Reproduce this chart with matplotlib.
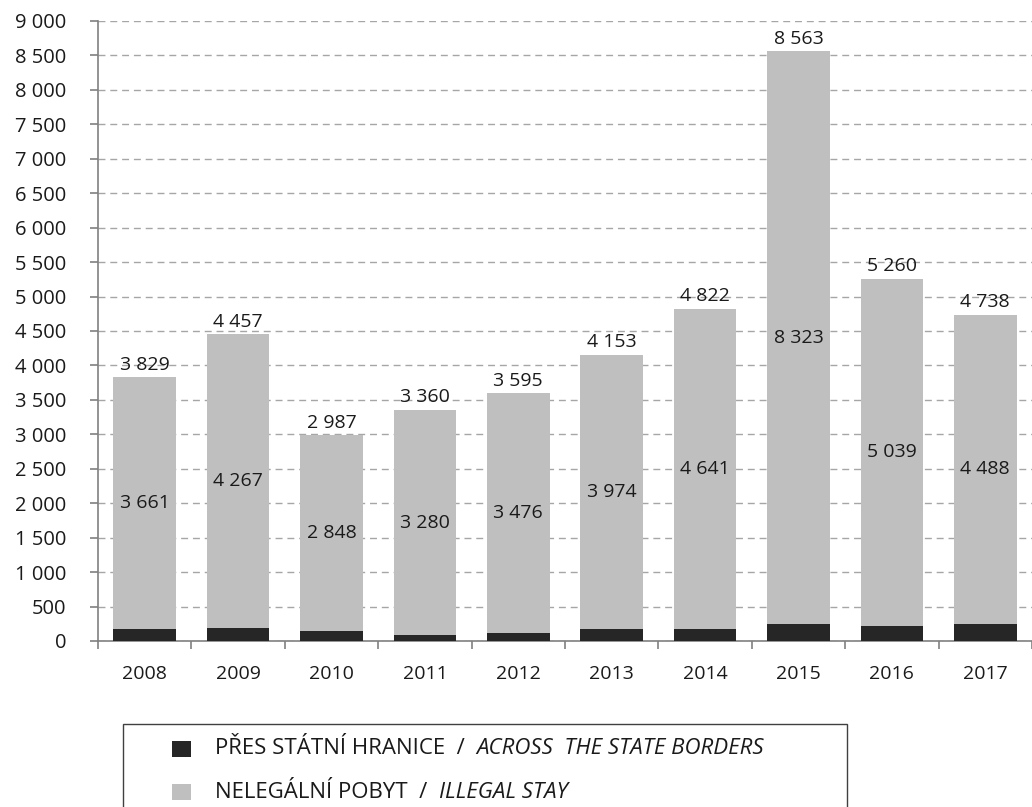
import matplotlib
matplotlib.use("Agg")
import matplotlib.pyplot as plt
from matplotlib.patches import Rectangle

years = ["2008", "2009", "2010", "2011", "2012", "2013", "2014", "2015", "2016", "2017"]
totals = [3829, 4457, 2987, 3360, 3595, 4153, 4822, 8563, 5260, 4738]
illegal_stay = [3661, 4267, 2848, 3280, 3476, 3974, 4641, 8323, 5039, 4488]
across_borders = [t - s for t, s in zip(totals, illegal_stay)]
legend_cz = ["PŘES STÁTNÍ HRANICE", "NELEGÁLNÍ POBYT"]
legend_en = ["ACROSS  THE STATE BORDERS", "ILLEGAL STAY"]

def fmt(v):
    return f"{v:,}".replace(",", " ")

plt.rcParams['font.family'] = ['Open Sans', 'DejaVu Sans']

W, H = 1032, 807
fig = plt.figure(figsize=(W / 100, H / 100), dpi=100)
ax = fig.add_axes([98/W, 1 - 641/H, (W-98)/W, (641-21)/H])

x = list(range(len(years)))
w = 0.67
dark = "#262626"
grey = "#bfbfbf"
tc = "#1a1a1a"
fs = 14
ax.bar(x, across_borders, width=w, color=dark, zorder=3)
ax.bar(x, illegal_stay, width=w, bottom=across_borders, color=grey, zorder=3)

for i in x:
    ax.text(i, totals[i] + 50, fmt(totals[i]), ha="center", va="bottom", fontsize=fs, color=tc)
    ax.text(i, across_borders[i] + illegal_stay[i] / 2, fmt(illegal_stay[i]), ha="center", va="center",
            fontsize=fs, color=tc, zorder=4)

ax.set_ylim(0, 9000)
ax.set_xlim(-0.5, 9.37)
ax.set_yticks(range(0, 9001, 500))
ax.set_yticklabels([fmt(v) for v in range(0, 9001, 500)], fontsize=14.5, color=tc)
ax.yaxis.grid(True, linestyle=(0, (5, 3.5)), color="#a6a6a6", linewidth=1.0, zorder=0)
ax.set_xticks(x)
ax.set_xticklabels(years, fontsize=fs, color=tc)
ax.set_xticks([i - 0.5 for i in range(len(years) + 1)], minor=True)
ax.tick_params(axis="x", which="major", length=0, pad=17)
ax.tick_params(axis="x", which="minor", length=6, color="#808080", width=1.2)
ax.tick_params(axis="y", length=6, color="#808080", width=1.2, pad=17)
for s in ["top", "right"]:
    ax.spines[s].set_visible(False)
for s in ["left", "bottom"]:
    ax.spines[s].set_color("#808080")
    ax.spines[s].set_linewidth(1.2)

# legend box (manual, figure pixel coordinates)
def fx(px):
    return px / W

def fy(py):
    return 1 - py / H

fig.patches.append(Rectangle((fx(123), fy(812)), fx(847) - fx(123), fy(724) - fy(812),
                             transform=fig.transFigure, facecolor="white", edgecolor="#404040",
                             linewidth=1.0, zorder=5))
rows_y = [749, 792]
colors = [dark, grey]
lfs = 16
for k in range(2):
    yc = rows_y[k]
    fig.patches.append(Rectangle((fx(172), fy(yc + 8)), fx(191) - fx(172), fy(yc - 8) - fy(yc + 8),
                                 transform=fig.transFigure, facecolor=colors[k], edgecolor="none", zorder=6))
    t1 = fig.text(fx(215), fy(yc), legend_cz[k] + "  /  ", ha="left", va="center",
                  fontsize=lfs, color=tc, zorder=7)
    fig.canvas.draw()
    bb = t1.get_window_extent()
    fig.text(bb.x1 / W, fy(yc), legend_en[k], ha="left", va="center", fontsize=lfs,
             style="italic", color=tc, zorder=7)

fig.savefig("out.png", dpi=100)
